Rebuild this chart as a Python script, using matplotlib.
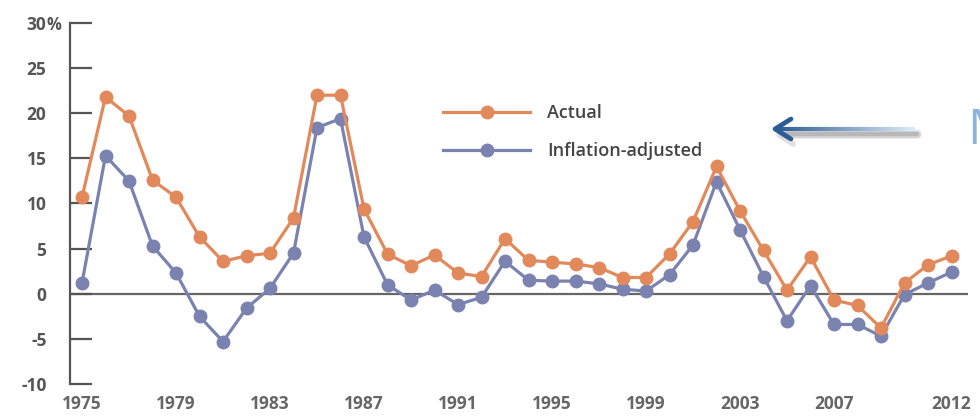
import matplotlib
matplotlib.use("Agg")
import matplotlib.pyplot as plt
import numpy as np
from matplotlib.collections import LineCollection

years = list(range(1975, 2013))
actual = [10.7, 21.8, 19.7, 12.6, 10.7, 6.3, 3.6, 4.2, 4.5, 8.4,
          22.0, 22.0, 9.4, 4.4, 3.1, 4.3, 2.3, 1.9, 6.1, 3.7,
          3.5, 3.3, 2.9, 1.8, 1.8, 4.4, 8.0, 14.1, 9.2, 4.8,
          0.4, 4.1, -0.7, -1.3, -3.8, 1.2, 3.2, 4.2]
adjusted = [1.2, 15.3, 12.5, 5.3, 2.3, -2.5, -5.3, -1.6, 0.6, 4.5,
            18.4, 19.4, 6.3, 1.0, -0.7, 0.4, -1.2, -0.4, 3.6, 1.5,
            1.4, 1.4, 1.1, 0.5, 0.3, 2.1, 5.4, 12.4, 7.1, 1.9,
            -3.0, 0.9, -3.4, -3.4, -4.7, -0.1, 1.2, 2.4]
xtick_years = [1975, 1979, 1983, 1987, 1991, 1995, 1999, 2003, 2007, 2012]
yticks = [-10, -5, 0, 5, 10, 15, 20, 25, 30]
ytick_labels = ["-10", "-5", "0", "5", "10", "15", "20", "25", "30"]
unit_suffix = "%"
series_names = ["Actual", "Inflation-adjusted"]

ORANGE = "#E2895C"
BLUE = "#7A82B0"
TXT = "#555555"

plt.rcParams['font.family'] = ['Open Sans', 'DejaVu Sans']

W, H = 980, 420
fig = plt.figure(figsize=(W / 100, H / 100), dpi=100)
fig.patch.set_facecolor("white")

ax_l, ax_r, ax_t, ax_b = 70, 968, 23, 384
ax = fig.add_axes([ax_l / W, (H - ax_b) / H, (ax_r - ax_l) / W, (ax_b - ax_t) / H])
ax.set_xlim(1975 - 12 / 23.5, 1975 + (ax_r - 82) / 23.5)
ax.set_ylim(-10, 30)

ax.axhline(0, color="#666666", lw=1.6, zorder=1)
ax.plot(years, actual, color=ORANGE, lw=2.3, marker="o", ms=9, zorder=3,
        label=series_names[0], solid_joinstyle="round")
ax.plot(years, adjusted, color=BLUE, lw=2.3, marker="o", ms=9, zorder=2,
        label=series_names[1], solid_joinstyle="round")

for s in ["top", "right", "bottom"]:
    ax.spines[s].set_visible(False)
ax.spines["left"].set_color("#555555")
ax.spines["left"].set_linewidth(1.6)

ax.set_yticks(yticks)
ax.set_yticklabels(ytick_labels)
ax.tick_params(axis="y", direction="in", length=16, width=1.6, color="#555555",
               pad=17, labelsize=12.5, labelcolor=TXT)
for t in ax.get_yticklabels():
    t.set_fontweight("bold")

ax.set_xticks(xtick_years)
ax.set_xticklabels([str(y) for y in xtick_years])
ax.tick_params(axis="x", length=0, pad=8, labelsize=12.5, labelcolor="#666666")
for t in ax.get_xticklabels():
    t.set_fontweight("bold")

# "%" hanging after the top tick label
top_label = ax.get_yticklabels()[-1]
ax.annotate(unit_suffix, xy=(1, 0.5), xycoords=top_label, ha="left", va="center",
            fontsize=12, fontweight="bold", color=TXT, annotation_clip=False)

leg = ax.legend(loc="upper left", bbox_to_anchor=(436 / W, (H - 97) / H),
                bbox_transform=fig.transFigure, frameon=False, numpoints=1,
                handlelength=4.8, handletextpad=0.95, labelspacing=1.1,
                borderaxespad=0, prop={"weight": "semibold", "size": 13})
for t in leg.get_texts():
    t.set_color("#444444")

# decoration overlay: arrow with gradient and text "M"
ov = fig.add_axes([0, 0, 1, 1])
ov.set_xlim(0, W)
ov.set_ylim(H, 0)
ov.axis("off")
ov.patch.set_alpha(0)

tip_x, tip_y, tail_x = 775, 129, 915
for k, a in zip([7, 5, 3], [0.15, 0.25, 0.35]):
    ov.plot([tip_x + 10, tail_x + 2], [tip_y + 5, tip_y + 5], color="#888888", lw=k,
            alpha=a, solid_capstyle="round")
ov.plot([tip_x + 4, tip_x + 18], [tip_y + 6, tip_y + 15], color="#999999", lw=4, alpha=0.3,
        solid_capstyle="round")
n = 60
xs = np.linspace(tip_x + 2, tail_x, n + 1)
segs = [[(xs[i], tip_y), (xs[i + 1], tip_y)] for i in range(n)]
c0 = np.array([0x2B, 0x5C, 0x94]) / 255
c1 = np.array([0xDD, 0xEA, 0xF7]) / 255
cols = [tuple(c0 + (c1 - c0) * (i / (n - 1))) for i in range(n)]
ov.add_collection(LineCollection(segs, colors=cols, linewidths=3.0))
ov.plot([tip_x + 16, tip_x, tip_x + 16], [tip_y - 10, tip_y, tip_y + 10],
        color="#2B5C94", lw=3.4, solid_capstyle="round", solid_joinstyle="round")

fig.text(967 / W, (H - 131) / H, "M", fontsize=36, color="#8DB3DC",
         ha="left", va="center", family=["Open Sans", "DejaVu Sans"], fontweight="normal")

fig.savefig("out.png", dpi=100, facecolor="white")
